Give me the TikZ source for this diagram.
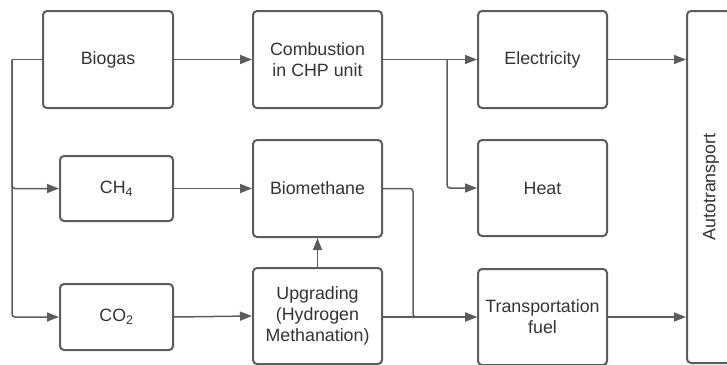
\documentclass[tikz,border=0pt]{standalone}
\usepackage{fontspec}
\setmainfont{Liberation Sans}
\usetikzlibrary{arrows.meta}
\definecolor{linegray}{HTML}{5C5C5C}
\definecolor{textgray}{HTML}{333333}
\tikzset{
  stagebox/.style={draw=linegray, line width=2pt, rounded corners=4pt,
    text=textgray, align=center, inner sep=0pt,
    font=\fontsize{17.8}{21}\selectfont},
  flow/.style={draw=linegray, line width=1.5pt, rounded corners=3pt,
    -{Triangle[length=12pt,width=9pt]}},
  wire/.style={draw=linegray, line width=1.5pt, rounded corners=3pt}
}
\begin{document}
\begin{tikzpicture}[x=1pt,y=-1pt]
\useasboundingbox (0,0) rectangle (727,364);
\begin{scope}
\clip (0,0) rectangle (727,364);
% column 1
\node[stagebox, minimum width=130pt, minimum height=97pt] (biogas) at (108,59.5) {Biogas};
\node[stagebox, minimum width=113pt, minimum height=65pt] (ch4) at (116.5,188.5) {CH\textsubscript{4}};
\node[stagebox, minimum width=113pt, minimum height=66pt] (co2) at (116.5,317) {CO\textsubscript{2}};
% column 2
\node[stagebox, minimum width=129pt, minimum height=97pt] (chp) at (317.5,59.5) {Combustion\\in CHP unit};
\node[stagebox, minimum width=129pt, minimum height=97pt] (biometh) at (317.5,188.5) {Biomethane};
\node[stagebox, minimum width=129pt, minimum height=96pt] (upgr) at (317.5,316) {Upgrading\\(Hydrogen\\Methanation)};
% column 3
\node[stagebox, minimum width=129pt, minimum height=97pt] (elec) at (542.5,59.5) {Electricity};
\node[stagebox, minimum width=129pt, minimum height=96pt] (heat) at (542.5,188) {Heat};
\node[stagebox, minimum width=129pt, minimum height=96pt] (fuel) at (542.5,317) {Transportation\\fuel};
% end use, rotated so its label runs upwards
\node[stagebox, minimum width=352pt, minimum height=48pt, rotate=90] (auto) at (711,187) {Autotransport};
% junction points
\coordinate (tl) at (12,59.5);
\coordinate (j1) at (447,59.5);
\coordinate (j2) at (413,317);
% connectors
\draw[flow] (biogas.east) -- (chp.west);
\draw[wire] (biogas.west) -- (tl);
\draw[flow] (tl) |- (ch4.west);
\draw[flow] (tl) |- (co2.west);
\draw[flow] (chp.east) -- (elec.west);
\draw[flow] (j1) |- (heat.west);
\draw[flow] (ch4.east) -- (biometh.west);
\draw[flow] (co2.east) -- (upgr.west);
\draw[flow] (upgr.north) -- (biometh.south);
\draw[flow] (biometh.east) -| (j2) -- (fuel.west);
\draw[flow] (upgr.east |- fuel.west) -- (fuel.west);
\draw[flow] (elec.east) -- (elec.east -| auto.north);
\draw[flow] (fuel.east) -- (fuel.east -| auto.north);
\end{scope}
\end{tikzpicture}
\end{document}
